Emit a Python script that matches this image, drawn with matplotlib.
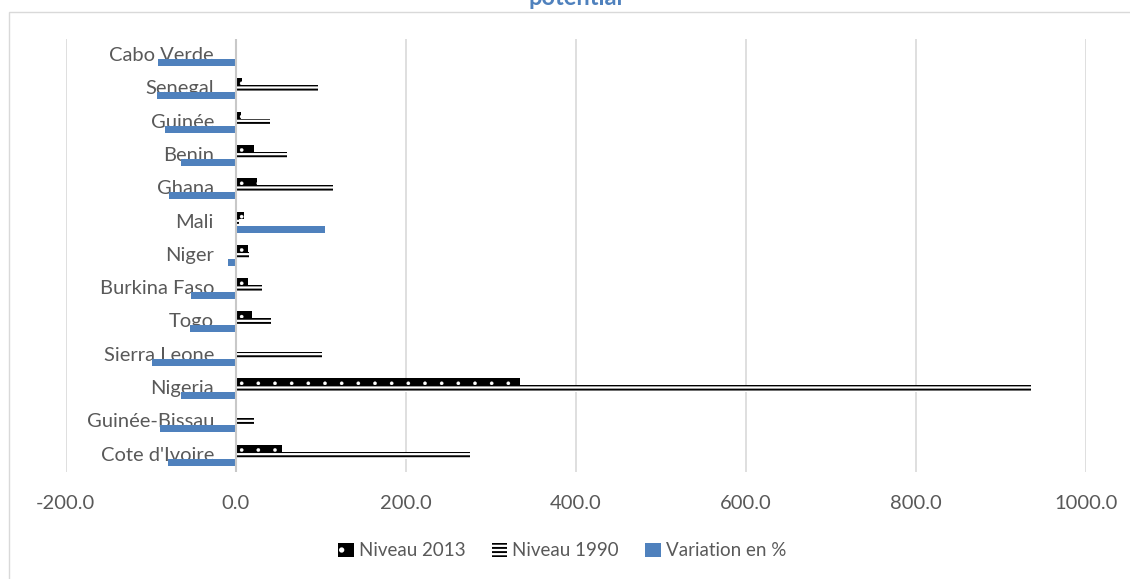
import matplotlib.pyplot as plt
from matplotlib.patches import Patch, Rectangle
import numpy as np

# data (bottom to top, as drawn)
countries = ["Cote d'Ivoire", "Guinée-Bissau", "Nigeria", "Sierra Leone", "Togo",
             "Burkina Faso", "Niger", "Mali", "Ghana", "Benin", "Guinée",
             "Senegal", "Cabo Verde"]
niveau_2013 = [54, 1.5, 334, 0.8, 19, 14, 14, 9.5, 25.5, 21, 6.5, 7, 0.3]
niveau_1990 = [276, 22, 935, 102, 41, 31, 15.5, 3.5, 114, 60, 40, 96.5, 1]
variation = [-80, -89, -64, -99, -54, -53, -8.6, 105.5, -78, -64, -83, -93, -92]
xticks = [-200, 0, 200, 400, 600, 800, 1000]

font = ['Lato', 'DejaVu Sans']
plt.rcParams['font.family'] = font

W, H = 1130, 579
fig = plt.figure(figsize=(W / 100, H / 100), dpi=100)
ax = fig.add_axes([65.7 / W, 1 - 471.7 / H, (1086 - 65.7) / W, (471.7 - 39) / H])

y = np.arange(len(countries))
h = 0.21
blue = '#4f81bd'

# dotted black bars (2013) and striped bars (1990)
plt.rcParams['hatch.linewidth'] = 0.2
ax.barh(y + h, niveau_2013, height=h, facecolor='black', edgecolor='white',
        hatch='.', linewidth=0, zorder=3)
dot_patch = Patch(facecolor='black', edgecolor='white', hatch='.', linewidth=0)
plt.rcParams['hatch.linewidth'] = 1.4
ax.barh(y, niveau_1990, height=h, facecolor='white', edgecolor='black',
        hatch='----', linewidth=0, zorder=3)
stripe_patch = Patch(facecolor='white', edgecolor='black', hatch='----', linewidth=0)
ax.barh(y - h, variation, height=h, color=blue, linewidth=0, zorder=3)

ax.set_xlim(-200, 1000)
ax.set_ylim(-0.5, len(countries) - 0.5)
ax.set_xticks(xticks)
ax.set_xticklabels([f'{v:.1f}' for v in xticks])
ax.set_yticks([])
ax.tick_params(axis='x', length=0, pad=17, labelsize=14.5, labelcolor='#595959')
for s in ax.spines.values():
    s.set_visible(False)
ax.grid(True, axis='x', color='#d9d9d9', linewidth=1.2, zorder=0)
ax.axvline(0, color='#c8c8c8', linewidth=1.5, zorder=4)

for yi, name in zip(y, countries):
    ax.annotate(name, (0, yi), xytext=(-15.7, 0), textcoords='offset points',
                ha='right', va='center', fontsize=14.5, color='#595959', zorder=2)

handles = [dot_patch, stripe_patch, Patch(facecolor=blue, linewidth=0)]
fig.legend(handles, ['Niveau 2013', 'Niveau 1990', 'Variation en %'],
           loc='center', bbox_to_anchor=(562 / W, 1 - 551 / H), ncol=3,
           frameon=False, fontsize=13.5, labelcolor='#595959',
           handlelength=0.85, handleheight=0.85, handletextpad=0.25,
           columnspacing=1.4)

# clipped title and chart border
fig.text(576 / W, 1 - 5 / H, 'potential', ha='center', va='baseline',
         fontsize=17, fontweight='bold', color=blue)
fig.patches.append(Rectangle((9 / W, -0.1), 2, (H - 12) / H + 0.1,
                             transform=fig.transFigure, fill=False,
                             edgecolor='#d9d9d9', linewidth=1.0))

fig.savefig('out.png', dpi=100, facecolor='white')
